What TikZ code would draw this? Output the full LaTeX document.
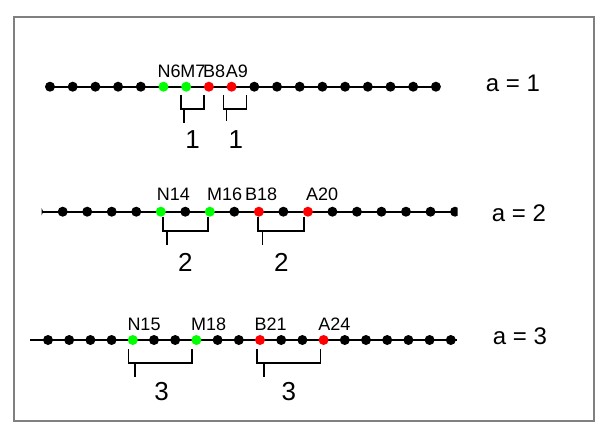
\documentclass[tikz,border=0pt]{standalone}
\usepackage{fontspec}
\setmainfont{Liberation Sans}
\usepackage{tikz}
\usetikzlibrary{calc,backgrounds}
\definecolor{dotgreen}{RGB}{0,255,0}
\definecolor{dotred}{RGB}{255,0,0}
\definecolor{framegray}{RGB}{128,128,128}
\tikzset{
    dot/.style={circle,fill=black,inner sep=0pt,minimum size=10pt},
    gdot/.style={dot,fill=dotgreen},
    rdot/.style={dot,fill=dotred},
    chain/.style={line width=1.6pt},
    brace/.style={line width=1.6pt},
    lbl/.style={inner sep=0pt,anchor=base west,font=\fontsize{18}{20}\selectfont},
    num/.style={inner sep=0pt,font=\fontsize{26}{28}\selectfont},
    alabel/.style={inner sep=0pt,font=\fontsize{24}{26}\selectfont}
}

\begin{document}
\begin{tikzpicture}[x=1pt,y=-1pt]
    \useasboundingbox (0,0) rectangle (603,432);
    \draw[framegray,line width=2.5pt] (14,17) rectangle (594,421);

    % a = 1
    \foreach \i in {1,...,5,10,11,...,18}
        \node[dot] (a\i) at ({50+22.7*(\i-1)},86.7) {};
    \foreach \i in {6,7}
        \node[gdot] (a\i) at ({50+22.7*(\i-1)},86.7) {};
    \foreach \i in {8,9}
        \node[rdot] (a\i) at ({50+22.7*(\i-1)},86.7) {};
    \begin{scope}[on background layer]
        \draw[chain] (a1.center) -- (a18.center);
    \end{scope}
    \foreach \i/\t in {6/N6,7/M7,8/B8,9/A9}
        \node[lbl] (la\i) at ([shift={(-6,-9)}]a\i.center) {\t};
    \draw[brace] ([shift={(-5,8)}]a7.center) |- ([shift={(-5,22)}]a8.center) -- ([shift={(-5,8)}]a8.center);
    \draw[brace] ([shift={(-2,22)}]a7.center) -- ++(0,14);
    \draw[brace] ([shift={(-8,8)}]a9.center) |- ([shift={(-8,22)}]a10.center) -- ([shift={(-8,8)}]a10.center);
    \draw[brace] ([shift={(-5,22)}]a9.center) -- ++(0,12);
    \node[num] (na1) at ($(a7)!.5!(a8)+(-5,53)$) {1};
    \node[num] (na2) at ($(a9)!.5!(a10)+(-7,53)$) {1};
    \node[alabel] (ta) at (513,83.3) {a = 1};

    % a = 2, cut at both ends
    \begin{scope}
        \clip (41.5,180) rectangle (457.5,225);
        \foreach \i in {9,...,13,15,17,19,21,22,...,26}
            \node[dot] (b\i) at ({62.7+24.52*(\i-10)},211.7) {};
        \foreach \i in {14,16}
            \node[gdot] (b\i) at ({62.7+24.52*(\i-10)},211.7) {};
        \foreach \i in {18,20}
            \node[rdot] (b\i) at ({62.7+24.52*(\i-10)},211.7) {};
    \end{scope}
    \begin{scope}[on background layer]
        \draw[chain] ([xshift=3.5pt]b9.center) -- ([xshift=1.5pt]b26.center);
    \end{scope}
    \foreach \i/\t/\s in {14/N14/-4,16/M16/-3,18/B18/-14,20/A20/-2}
        \node[lbl] (lb\i) at ([shift={(\s,-11)}]b\i.center) {\t};
    \draw[brace] ([shift={(2,5)}]b14.center) |- ([shift={(-2,19)}]b16.center) -- ([shift={(-2,5)}]b16.center);
    \draw[brace] ([shift={(6,19)}]b14.center) -- ++(0,14);
    \draw[brace] ([shift={(-1,5)}]b18.center) |- ([shift={(-4,19)}]b20.center) -- ([shift={(-4,5)}]b20.center);
    \draw[brace] ([shift={(3.5,19)}]b18.center) -- ++(0,14);
    \node[num] (nb1) at ($(b14)!.5!(b16)+(0,51)$) {2};
    \node[num] (nb2) at ($(b18)!.5!(b20)+(-2,51)$) {2};
    \node[alabel] (tb) at (519,213) {a = 2};

    % a = 3
    \foreach \i in {11,...,14,16,17,19,20,22,23,25,26,...,30}
        \node[dot] (c\i) at ({48+21.2*(\i-11)},340) {};
    \foreach \i in {15,18}
        \node[gdot] (c\i) at ({48+21.2*(\i-11)},340) {};
    \foreach \i in {21,24}
        \node[rdot] (c\i) at ({48+21.2*(\i-11)},340) {};
    \begin{scope}[on background layer]
        \draw[chain] ([xshift=-18pt]c11.center) -- ([xshift=6pt]c30.center);
    \end{scope}
    \foreach \i/\t in {15/N15,18/M18,21/B21,24/A24}
        \node[lbl] (lc\i) at ([shift={(-5.5,-9.3)}]c\i.center) {\t};
    \draw[brace] ([shift={(-4.5,9.3)}]c15.center) |- ([shift={(-4.7,22.7)}]c18.center) -- ([shift={(-4.7,9.3)}]c18.center);
    \draw[brace] ([shift={(2.2,22.7)}]c15.center) -- ++(0,14);
    \draw[brace] ([shift={(-3.3,9.3)}]c21.center) |- ([shift={(-3,22.7)}]c24.center) -- ([shift={(-3,9.3)}]c24.center);
    \draw[brace] ([shift={(4,22.7)}]c21.center) -- ++(0,14);
    \node[num] (nc1) at ($(c15)!.5!(c18)+(-3,51.7)$) {3};
    \node[num] (nc2) at ($(c21)!.5!(c24)+(-3,51.7)$) {3};
    \node[alabel] (tc) at (520,336.7) {a = 3};
\end{tikzpicture}
\end{document}
